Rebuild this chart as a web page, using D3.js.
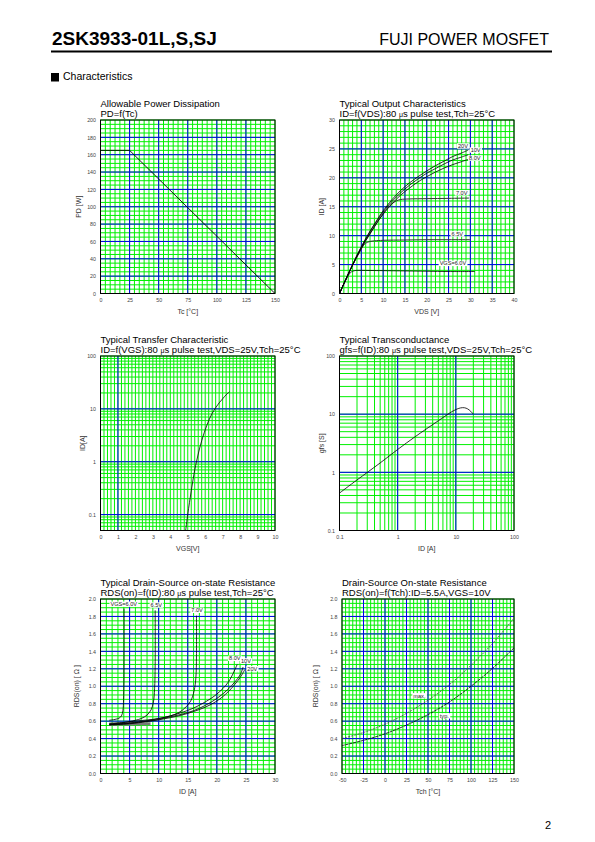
<!DOCTYPE html>
<html><head><meta charset="utf-8">
<script src="https://cdn.jsdelivr.net/npm/d3@7"></script>
<style>body{margin:0;background:#fff}svg{display:block}</style>
</head><body>
<script>
// ================= DATA =================
const partNumber = "2SK3933-01L,S,SJ";
const maker = "FUJI POWER MOSFET";
const section = "Characteristics";
const pageNo = "2";

// Chart 1: Allowable Power Dissipation
const pdTc = [0, 25, 150];
const pdW = [165, 165, 0];
const pdXTicks = [0, 25, 50, 75, 100, 125, 150];
const pdYTicks = [0, 20, 40, 60, 80, 100, 120, 140, 160, 180, 200];

// Chart 2: Typical Output Characteristics
const outVds = [0, 1, 2, 3, 4, 5, 6, 7, 8, 9, 10, 12, 14, 16, 18, 20, 22, 24, 26, 28, 29.5];
const outId20 = [0, 1.7, 3.4, 5.0, 6.6, 8.1, 9.5, 10.8, 12.0, 13.2, 14.3, 16.2, 17.8, 19.1, 20.2, 21.2, 22.1, 22.9, 23.7, 24.3, 24.8];
const outId10 = [0, 1.7, 3.4, 5.0, 6.6, 8.0, 9.4, 10.7, 11.9, 13.0, 14.1, 15.9, 17.4, 18.7, 19.8, 20.8, 21.6, 22.4, 23.1, 23.6, 24.0];
const outId8 = [0, 1.7, 3.3, 4.9, 6.4, 7.8, 9.2, 10.4, 11.6, 12.7, 13.7, 15.5, 17.0, 18.2, 19.3, 20.2, 21.0, 21.7, 22.3, 22.8, 23.2];
const outVds7 = [0, 1, 2, 3, 4, 5, 6, 7, 8, 9, 10, 11, 12, 13, 14, 16, 20, 25, 29.7];
const outId7 = [0, 1.7, 3.3, 4.9, 6.4, 7.8, 9.1, 10.3, 11.5, 12.7, 13.8, 14.8, 15.5, 16.0, 16.25, 16.35, 16.4, 16.45, 16.5];
const outVds65 = [0, 1, 2, 3, 4, 4.5, 5, 5.5, 6, 7, 8, 10, 15, 20, 25, 30];
const outId65 = [0, 1.7, 3.3, 4.9, 6.3, 7.0, 7.7, 8.3, 8.7, 9.0, 9.1, 9.2, 9.25, 9.3, 9.3, 9.3];
const outVds6 = [0, 1, 2, 2.5, 3, 3.5, 4, 5, 7, 10, 15, 20, 25, 31];
const outId6 = [0, 1.6, 3.1, 3.6, 3.85, 3.95, 4.0, 4.0, 3.98, 3.95, 3.9, 3.85, 3.8, 3.8];
const outLabels = ["20V", "10V", "8.0V", "7.0V", "6.5V", "VGS=6.0V"];
const outLabelVds = [28.3, 31.2, 31.0, 28.0, 27.0, 26.0];
const outLabelId = [25.5, 24.8, 23.4, 17.4, 10.3, 5.2];
const outXTicks = [0, 5, 10, 15, 20, 25, 30, 35, 40];
const outYTicks = [0, 5, 10, 15, 20, 25, 30];

// Chart 3: Typical Transfer Characteristic
const trVgs = [4.88, 5.0, 5.1, 5.2, 5.3, 5.4, 5.5, 5.6, 5.7, 5.8, 5.9, 6.0, 6.2, 6.4, 6.6, 6.8, 7.0, 7.2, 7.4];
const trId = [0.05, 0.1, 0.17, 0.28, 0.45, 0.7, 1.0, 1.4, 1.9, 2.5, 3.2, 4.0, 6.0, 8.2, 10.5, 13, 15.5, 18.5, 21];
const trXTicks = [0, 1, 2, 3, 4, 5, 6, 7, 8, 9, 10];
const trYTicks = [0.1, 1, 10, 100];

// Chart 4: Typical Transconductance
const gfsId = [0.1, 0.2, 0.5, 1, 2, 5, 8, 10, 12, 14, 16, 18, 20];
const gfsS = [0.44, 0.74, 1.45, 2.47, 4.1, 7.7, 10.6, 12.0, 12.8, 12.9, 12.3, 11.2, 10.0];
const gfsXTicks = [0.1, 1, 10, 100];
const gfsYTicks = [0.1, 1, 10, 100];

// Chart 5: Typical Drain-Source on-state Resistance
const rId6 = [1.5, 2.5, 3.2, 3.6, 3.85, 3.97, 4.03, 4.05, 4.05];
const rR6 = [0.61, 0.62, 0.635, 0.66, 0.72, 0.85, 1.05, 1.4, 1.89];
const rId65 = [1.5, 4, 6, 7, 8, 8.7, 9.1, 9.3, 9.4, 9.4];
const rR65 = [0.575, 0.585, 0.61, 0.63, 0.67, 0.73, 0.82, 0.97, 1.25, 1.87];
const rId7 = [1.5, 6, 10, 12, 13.5, 14.5, 15.5, 16.1, 16.4, 16.5, 16.5];
const rR7 = [0.565, 0.6, 0.63, 0.66, 0.70, 0.75, 0.83, 0.95, 1.1, 1.35, 1.81];
const rId8 = [1.5, 5, 8, 10, 12, 14, 16, 18, 20, 22, 23.5];
const rR8 = [0.56, 0.58, 0.605, 0.63, 0.66, 0.70, 0.75, 0.82, 0.91, 1.05, 1.25];
const rId10 = [1.5, 5, 8, 10, 12, 14, 16, 18, 20, 22, 24, 24.5];
const rR10 = [0.56, 0.575, 0.6, 0.62, 0.65, 0.68, 0.72, 0.78, 0.86, 0.97, 1.13, 1.22];
const rId20 = [1.5, 5, 8, 10, 12, 14, 16, 18, 20, 22, 24, 24.8];
const rR20 = [0.555, 0.57, 0.595, 0.615, 0.64, 0.67, 0.71, 0.76, 0.83, 0.94, 1.1, 1.19];
const rBandId = [1.5, 8.6];
const rBandR = [0.565, 0.57];
const rLabels = ["VGS=6.0V", "6.5V", "7.0V", "8.0V", "10V", "20V"];
const rLabelId = [4.0, 9.6, 16.6, 23.1, 25.0, 26.1];
const rLabelR = [1.94, 1.93, 1.87, 1.32, 1.29, 1.2];
const rXTicks = [0, 5, 10, 15, 20, 25, 30];
const rYTicks = [0, 0.2, 0.4, 0.6, 0.8, 1.0, 1.2, 1.4, 1.6, 1.8, 2.0];

// Chart 6: Drain-Source On-state Resistance vs Tch
const tch = [-50, -25, 0, 25, 50, 75, 100, 125, 150];
const rdsTyp = [0.32, 0.38, 0.455, 0.555, 0.675, 0.82, 1.0, 1.205, 1.44];
const rdsMax = [0.40, 0.47, 0.565, 0.69, 0.84, 1.02, 1.24, 1.49, 1.78];
const tLabels = ["max.", "typ."];
const tLabelT = [40, 69];
const tLabelR = [0.89, 0.66];
const tXTicks = [-50, -25, 0, 25, 50, 75, 100, 125, 150];
const tYTicks = [0, 0.2, 0.4, 0.6, 0.8, 1.0, 1.2, 1.4, 1.6, 1.8, 2.0];

// ================= DRAWING =================
const FONT = '"Liberation Sans", Arial, Helvetica, sans-serif';
const svg = d3.select('body').append('svg').attr('width', 595).attr('height', 842)
  .attr('font-family', FONT);

svg.append('text').attr('x', 52).attr('y', 45).attr('font-size', 19).attr('font-weight', 'bold').text(partNumber);
svg.append('text').attr('x', 549).attr('y', 45).attr('text-anchor', 'end').attr('font-size', 16).text(maker);
svg.append('rect').attr('x', 51).attr('y', 50.5).attr('width', 501).attr('height', 2).attr('fill', '#000');
svg.append('rect').attr('x', 51).attr('y', 73).attr('width', 8).attr('height', 8.5).attr('fill', '#000');
svg.append('text').attr('x', 63).attr('y', 80).attr('font-size', 10.5).text(section);
svg.append('text').attr('x', 551).attr('y', 829).attr('text-anchor', 'end').attr('font-size', 11).text(pageNo);

const linRange = (a, b, s) => d3.range(a, b + s / 1000, s);
function logGrid(lo, hi) {
  const out = [];
  for (let e = -3; e <= 3; e++) for (let k = 1; k < 10; k++) {
    const v = k * Math.pow(10, e);
    if (v >= lo * 0.999 && v <= hi * 1.001) out.push(v);
  }
  return out;
}
function addText(sel, str, muSize) {
  const parts = str.split('μ');
  parts.forEach((p, i) => {
    if (i > 0) sel.append('tspan').attr('font-size', muSize).text('μ');
    sel.append('tspan').text(p);
  });
}

function panel(c) {
  const g = svg.append('g');
  const x = (c.xlog ? d3.scaleLog() : d3.scaleLinear()).domain(c.xd).range([c.l, c.r]);
  const y = (c.ylog ? d3.scaleLog() : d3.scaleLinear()).domain(c.yd).range([c.b, c.t]);
  const grid = g.append('g');
  const gl = (cls, vals, vert, color) => grid.selectAll('line.' + cls).data(vals).join('line').attr('class', cls)
    .attr('x1', d => vert ? x(d) : c.l).attr('x2', d => vert ? x(d) : c.r)
    .attr('y1', d => vert ? c.t : y(d)).attr('y2', d => vert ? c.b : y(d))
    .attr('stroke', color).attr('stroke-width', 1);
  gl('vm', c.xMinor, true, '#00f000');
  gl('hm', c.yMinor, false, '#00f000');
  gl('vM', c.xMajor, true, '#0000ee');
  gl('hM', c.yMajor, false, '#0000ee');
  g.append('rect').attr('x', c.l).attr('y', c.t).attr('width', c.r - c.l).attr('height', c.b - c.t)
    .attr('fill', 'none').attr('stroke', '#000').attr('stroke-width', 1);

  const ax = g.append('g').attr('transform', `translate(0,${c.b})`)
    .call(d3.axisBottom(x).tickValues(c.xTicks).tickFormat(c.xFmt || (d => d)).tickSize(0).tickPadding(4.5));
  ax.select('.domain').remove();
  ax.attr('font-family', FONT).attr('font-size', 5.3);
  ax.selectAll('text').attr('fill', '#444');
  const ay = g.append('g').attr('transform', `translate(${c.l},0)`)
    .call(d3.axisLeft(y).tickValues(c.yTicks).tickFormat(c.yFmt || (d => d)).tickSize(0).tickPadding(4.5));
  ay.select('.domain').remove();
  ay.attr('font-family', FONT).attr('font-size', 5.3);
  ay.selectAll('text').attr('fill', '#444');

  g.append('text').attr('x', (c.l + c.r) / 2).attr('y', c.b + 20.5).attr('text-anchor', 'middle')
    .attr('font-size', 7).attr('fill', '#333').text(c.xTitle);
  g.append('text').attr('transform', `translate(${c.l - c.yOff},${(c.t + c.b) / 2}) rotate(-90)`)
    .attr('text-anchor', 'middle').attr('font-size', 7).attr('fill', '#333').text(c.yTitle);

  g.append('text').attr('x', c.l).attr('y', c.t - 13.5).attr('font-size', 9.5).text(c.title);
  addText(g.append('text').attr('x', c.l).attr('y', c.t - 3.5).attr('font-size', 9.5), c.sub, 7);
  return { g, x, y };
}

function curve(p, xs, ys, opt = {}) {
  const pts = xs.map((v, i) => [v, ys[i]]);
  p.g.append('path').datum(pts)
    .attr('d', d3.line().x(d => p.x(d[0])).y(d => p.y(d[1])).curve(opt.curve || d3.curveCatmullRom.alpha(0.5)))
    .attr('fill', 'none').attr('stroke', opt.color || '#000').attr('stroke-width', opt.w || 0.8)
    .attr('stroke-dasharray', opt.dash || null).attr('stroke-linecap', opt.cap || 'butt');
}
function labels(p, txt, xs, ys, size) {
  txt.forEach((t, i) => {
    const el = p.g.append('text').attr('x', p.x(xs[i])).attr('y', p.y(ys[i])).attr('dy', '0.35em')
      .attr('text-anchor', 'middle').attr('font-size', size).attr('fill', '#222').text(t);
    const b = el.node().getBBox();
    p.g.insert('rect', () => el.node()).attr('x', b.x - 1).attr('y', b.y + 0.3).attr('width', b.width + 2)
      .attr('height', b.height - 0.6).attr('fill', '#fff');
  });
}

// --- Chart 1
const p1 = panel({
  l: 100.5, r: 275, t: 120, b: 293.5, xd: [0, 150], yd: [0, 200],
  xMinor: linRange(0, 150, 25 / 6), yMinor: linRange(0, 200, 5),
  xMajor: [25, 50, 75, 100, 125], yMajor: [20, 40, 60, 80, 100, 120, 140, 160, 180],
  xTicks: pdXTicks, yTicks: pdYTicks, xTitle: 'Tc [°C]', yTitle: 'PD [W]', yOff: 19.5,
  title: 'Allowable Power Dissipation', sub: 'PD=f(Tc)'
});
curve(p1, pdTc, pdW, { w: 0.9, curve: d3.curveLinear });

// --- Chart 2
const p2 = panel({
  l: 339.5, r: 514, t: 120, b: 293.5, xd: [0, 40], yd: [0, 30],
  xMinor: linRange(0, 40, 1), yMinor: linRange(0, 30, 1),
  xMajor: [5, 10, 15, 20, 25, 30, 35], yMajor: [5, 10, 15, 20, 25],
  xTicks: outXTicks, yTicks: outYTicks, xTitle: 'VDS [V]', yTitle: 'ID [A]', yOff: 16,
  title: 'Typical Output Characteristics', sub: 'ID=f(VDS):80 μs pulse test,Tch=25°C'
});
curve(p2, outVds6, outId6);
curve(p2, outVds65, outId65, { color: '#333', w: 1 });
curve(p2, outVds7, outId7, { color: '#333', w: 1 });
curve(p2, outVds, outId8);
curve(p2, outVds, outId10);
curve(p2, outVds, outId20);
labels(p2, outLabels, outLabelVds, outLabelId, 5.6);

// --- Chart 3
const p3 = panel({
  l: 100.5, r: 275, t: 356, b: 530.5, xd: [0, 10], yd: [0.05, 100], ylog: true,
  xMinor: linRange(0, 10, 0.2), yMinor: logGrid(0.05, 100),
  xMajor: [1], yMajor: [0.1, 1, 10],
  xTicks: trXTicks, yTicks: trYTicks, yFmt: d3.format('~g'), xTitle: 'VGS[V]', yTitle: 'ID[A]', yOff: 15.5,
  title: 'Typical Transfer Characteristic', sub: 'ID=f(VGS):80 μs pulse test,VDS=25V,Tch=25°C'
});
curve(p3, trVgs, trId);

// --- Chart 4
const p4 = panel({
  l: 339.5, r: 514, t: 356, b: 530.5, xd: [0.1, 100], yd: [0.1, 100], xlog: true, ylog: true,
  xMinor: logGrid(0.1, 100), yMinor: logGrid(0.1, 100),
  xMajor: [1, 10], yMajor: [1, 10],
  xTicks: gfsXTicks, yTicks: gfsYTicks, xFmt: d3.format('~g'), yFmt: d3.format('~g'),
  xTitle: 'ID [A]', yTitle: 'gfs [S]', yOff: 16,
  title: 'Typical Transconductance', sub: 'gfs=f(ID):80 μs pulse test,VDS=25V,Tch=25°C'
});
curve(p4, gfsId, gfsS);

// --- Chart 5
const p5 = panel({
  l: 100.5, r: 275, t: 599, b: 773.5, xd: [0, 30], yd: [0, 2],
  xMinor: linRange(0, 30, 1), yMinor: linRange(0, 2, 0.05),
  xMajor: [5, 10, 15, 20, 25], yMajor: [0.2, 0.4, 0.6, 0.8, 1.0, 1.2, 1.4, 1.6, 1.8],
  xTicks: rXTicks, yTicks: rYTicks, yFmt: d3.format('.1f'), xTitle: 'ID [A]', yTitle: 'RDS(on) [ Ω ]', yOff: 22,
  title: 'Typical Drain-Source on-state Resistance', sub: 'RDS(on)=f(ID):80 μs pulse test,Tch=25°C'
});
curve(p5, rBandId, rBandR, { color: '#777', w: 3, curve: d3.curveLinear });
curve(p5, rId6, rR6);
curve(p5, rId65, rR65);
curve(p5, rId7, rR7);
curve(p5, rId8, rR8);
curve(p5, rId10, rR10);
curve(p5, rId20, rR20);
labels(p5, rLabels, rLabelId, rLabelR, 5.6);

// --- Chart 6
const p6 = panel({
  l: 342, r: 514, t: 599, b: 773.5, xd: [-50, 150], yd: [0, 2],
  xMinor: linRange(-50, 150, 25 / 6), yMinor: linRange(0, 2, 0.05),
  xMajor: [-25, 0, 25, 50, 75, 100, 125], yMajor: [0.2, 0.4, 0.6, 0.8, 1.0, 1.2, 1.4, 1.6, 1.8],
  xTicks: tXTicks, yTicks: tYTicks, yFmt: d3.format('.1f'), xTitle: 'Tch [°C]', yTitle: 'RDS(on) [ Ω ]', yOff: 24,
  title: 'Drain-Source On-state Resistance', sub: 'RDS(on)=f(Tch):ID=5.5A,VGS=10V'
});
curve(p6, tch, rdsMax, { color: '#444', dash: '2,1.2' });
curve(p6, tch, rdsTyp, { color: '#000', dash: '3,0.8' });
labels(p6, tLabels, tLabelT, tLabelR, 5.6);
</script>
</body></html>
